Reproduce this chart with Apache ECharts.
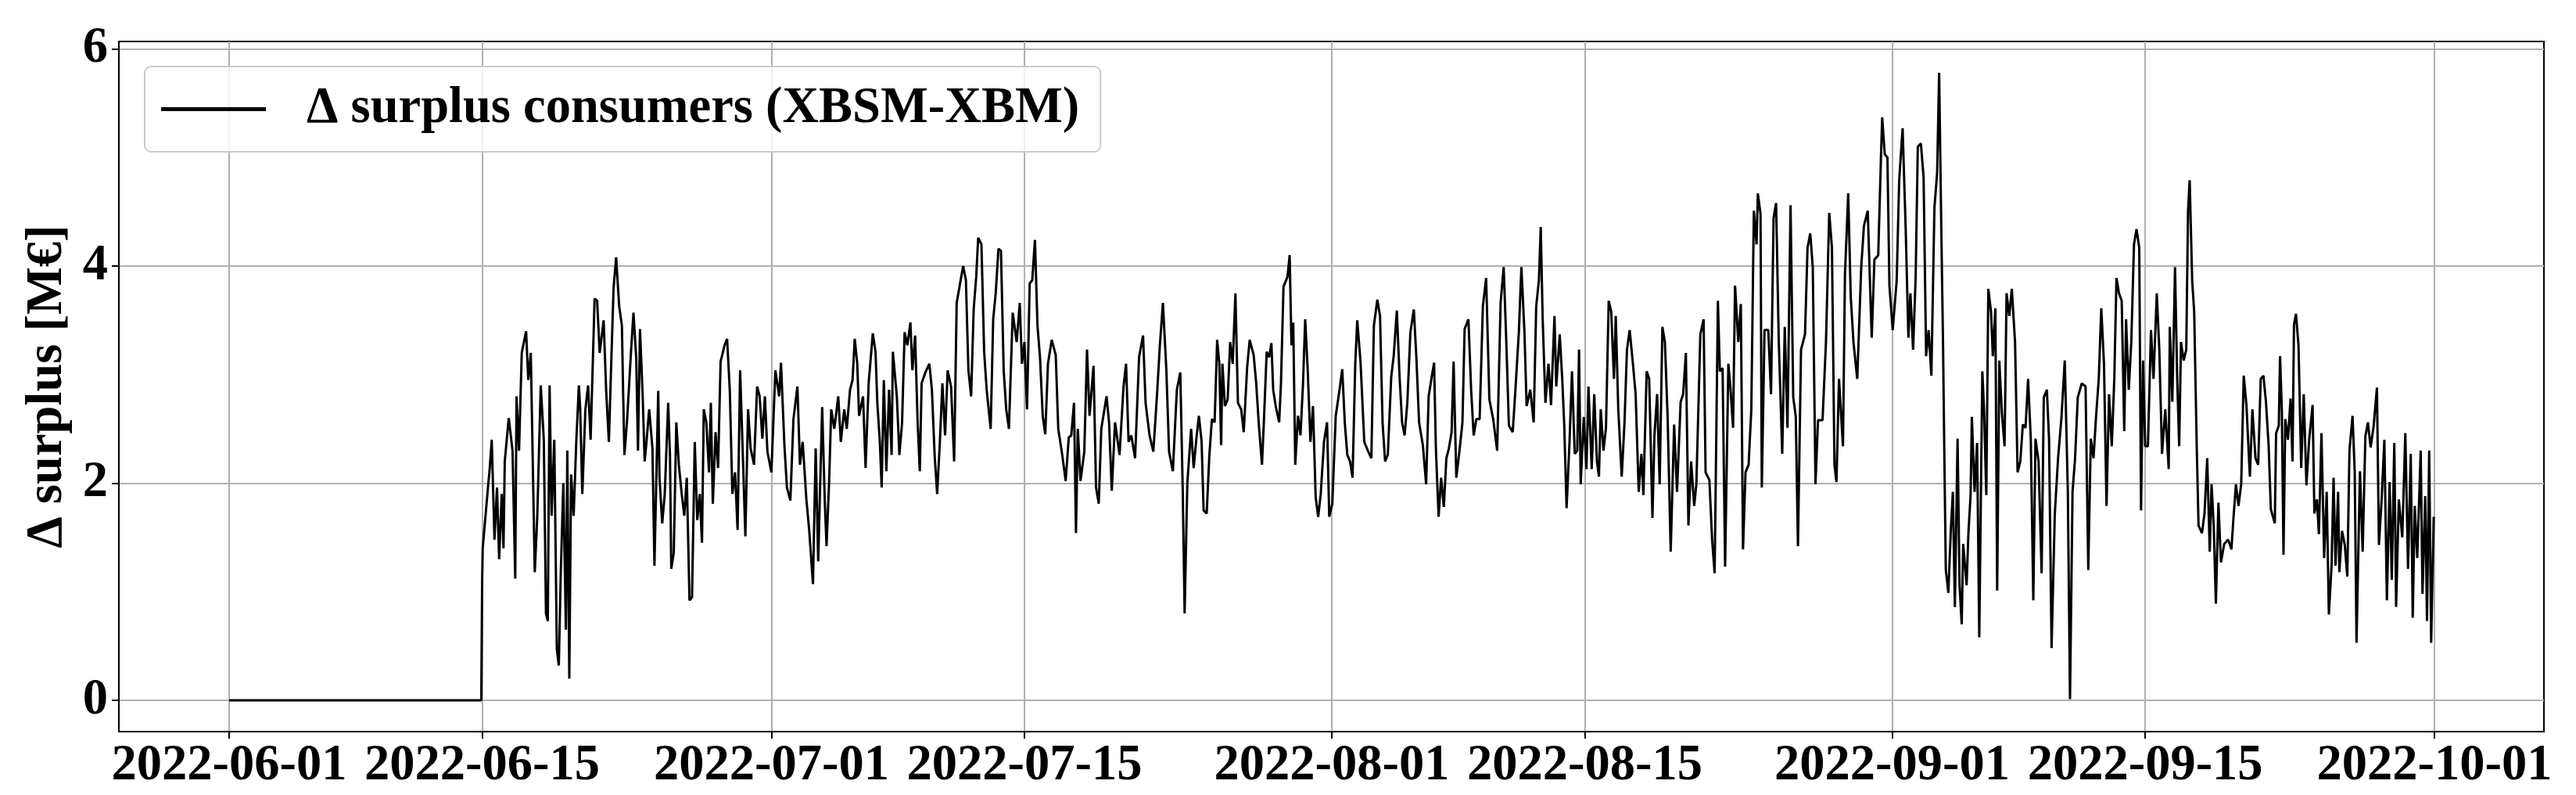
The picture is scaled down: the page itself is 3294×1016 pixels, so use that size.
<!DOCTYPE html>
<html>
<head>
<meta charset="utf-8">
<script src="https://cdn.jsdelivr.net/npm/echarts@6/dist/echarts.min.js"></script>
<style>
    html, body { margin: 0; padding: 0; background: #fff; }
    #chart { width: 3294px; height: 1016px; }
</style>
</head>
<body>
<div id="chart"></div>
<script>
var DAY = 86400000;
var START = Date.UTC(2022, 5, 1);                 // 2022-06-01 00:00

var seriesName = 'Δ surplus consumers (XBSM-XBM)';
var yAxisName = 'Δ surplus [M€]';
var xTickDates = ['2022-06-01', '2022-06-15', '2022-07-01', '2022-07-15', '2022-08-01',
                  '2022-08-15', '2022-09-01', '2022-09-15', '2022-10-01'];
var yTicks = [0, 2, 4, 6];

// readings: [days since 2022-06-01, surplus M€]
var juneReadings = [[0,0],[13.95,0],[14.0,1.12],[14.03,1.4],[14.32,1.96],[14.42,2.14],[14.53,2.4],[14.68,1.48],[14.82,1.96],[14.94,1.3],[15.08,1.9],[15.18,1.4],[15.25,2.2],[15.47,2.6],[15.68,2.3],[15.83,1.12],[15.9,2.8],[16.04,2.3],[16.19,3.2],[16.43,3.4],[16.55,2.95],[16.69,3.2],[16.91,1.18],[17.05,1.7],[17.24,2.9],[17.41,2.4],[17.53,0.8],[17.63,0.73],[17.73,2.9],[17.84,1.7],[17.99,2.4],[18.13,0.47],[18.24,0.32],[18.35,1.18],[18.49,2.0],[18.63,0.65],[18.71,2.3],[18.82,0.2],[18.92,2.08],[19.06,1.7],[19.21,2.4],[19.35,2.9],[19.42,2.7],[19.54,1.9],[19.71,2.68],[19.86,2.9],[20.0,2.4],[20.22,3.7],[20.36,3.68],[20.5,3.2],[20.72,3.5],[20.86,2.85],[21.01,2.38],[21.15,3.16],[21.27,3.8],[21.41,4.08],[21.58,3.63],[21.73,3.45],[21.8,2.82],[21.87,2.26],[22.01,2.56],[22.23,3.2],[22.37,3.57],[22.52,3.16],[22.62,2.3],[22.73,3.42],[22.88,2.8],[22.99,2.2],[23.09,2.38],[23.24,2.68],[23.42,2.32],[23.53,1.24],[23.74,2.85],[23.81,2.05],[23.96,1.63],[24.1,1.9],[24.29,2.74],[24.39,2.26],[24.46,1.21],[24.6,1.36],[24.74,2.56],[24.88,2.17],[25.04,1.9],[25.18,1.7],[25.32,2.05],[25.47,0.92],[25.61,0.95],[25.76,2.38],[25.9,1.66],[26.04,1.9],[26.16,1.45],[26.26,2.68],[26.4,2.56],[26.55,2.1],[26.65,2.74],[26.76,1.81],[26.91,2.47],[27.05,2.14],[27.19,3.12],[27.41,3.27],[27.55,3.33],[27.7,2.85],[27.84,1.9],[27.99,2.1],[28.13,1.57],[28.27,3.04],[28.42,2.26],[28.56,1.51],[28.71,2.68],[28.85,2.32],[29.04,2.17],[29.21,2.89],[29.35,2.8],[29.5,2.41],[29.64,2.8],[29.78,2.29],[30.0,2.1]];

var julyReadings = [[30.22,3.04],[30.43,2.8],[30.53,3.11],[30.72,2.35],[30.86,1.96],[31.05,1.84],[31.22,2.59],[31.44,2.89],[31.58,2.17],[31.73,2.38],[31.94,1.84],[32.09,1.57],[32.3,1.07],[32.45,2.32],[32.59,1.28],[32.81,2.7],[32.95,1.85],[33.05,1.42],[33.19,2.0],[33.31,2.68],[33.48,2.5],[33.7,2.8],[33.84,2.38],[34.03,2.68],[34.17,2.5],[34.35,2.86],[34.49,2.95],[34.61,3.33],[34.75,3.1],[34.85,2.62],[35.07,2.8],[35.21,2.14],[35.38,2.92],[35.61,3.38],[35.76,3.21],[35.86,2.74],[36.0,2.38],[36.1,1.96],[36.22,2.95],[36.36,2.11],[36.51,2.86],[36.65,2.26],[36.72,3.21],[36.94,2.8],[37.08,2.26],[37.23,2.56],[37.37,3.39],[37.52,3.27],[37.69,3.48],[37.8,3.04],[37.95,3.36],[38.09,2.56],[38.21,2.11],[38.31,2.92],[38.52,3.02],[38.74,3.1],[38.88,2.86],[39.03,2.26],[39.17,1.9],[39.32,2.38],[39.46,2.92],[39.61,2.44],[39.75,3.04],[39.94,2.89],[40.11,2.2],[40.25,3.66],[40.47,3.87],[40.61,4.0],[40.76,3.87],[40.9,3.04],[41.05,2.8],[41.19,3.6],[41.33,3.9],[41.44,4.26],[41.62,4.2],[41.77,3.21],[41.91,2.86],[42.13,2.5],[42.27,3.51],[42.41,3.75],[42.56,4.16],[42.7,4.14],[42.85,3.04],[42.99,2.68],[43.14,2.5],[43.35,3.57],[43.57,3.3],[43.74,3.66],[43.86,3.1],[44.0,3.3],[44.14,2.68],[44.29,3.84],[44.43,3.87],[44.58,4.24],[44.72,3.45],[44.86,3.16],[45.01,2.62],[45.15,2.45],[45.3,3.1],[45.51,3.32],[45.73,3.18],[45.87,2.5],[46.09,2.26],[46.28,2.02],[46.45,2.42],[46.59,2.44],[46.74,2.74],[46.85,1.54],[46.95,2.5],[47.1,2.02],[47.31,2.29],[47.46,3.23],[47.6,2.62],[47.82,3.08],[47.96,1.96],[48.11,1.81],[48.25,2.5],[48.54,2.8],[48.68,2.56],[48.83,1.93],[49.01,2.56],[49.26,2.26],[49.48,2.89],[49.62,3.1],[49.76,2.38],[49.91,2.44],[50.12,2.23],[50.34,3.16],[50.56,3.36],[50.7,2.74],[50.92,2.44],[51.13,2.29],[51.35,2.86],[51.49,3.27],[51.66,3.66],[51.85,3.04],[52.0,2.29],[52.21,2.11],[52.43,2.86],[52.62,3.02],[52.76,1.9],[52.86,0.8],[53.01,2.0],[53.22,2.5],[53.36,2.14],[53.51,2.41],[53.65,2.62],[53.8,2.38],[53.91,1.75],[54.08,1.72],[54.23,2.26],[54.37,2.59],[54.52,2.56],[54.66,3.32],[54.78,3.1],[54.88,2.35],[54.95,3.1],[55.09,2.71],[55.24,2.77],[55.38,3.3],[55.52,3.1],[55.67,3.75],[55.81,2.74],[55.99,2.68],[56.13,2.47],[56.32,3.07],[56.46,3.32],[56.68,3.18],[56.82,2.92],[56.97,2.53],[57.14,2.17],[57.25,2.59],[57.4,3.21],[57.54,3.16],[57.66,3.29],[57.76,2.86],[57.9,2.71],[58.09,2.56],[58.19,2.92],[58.33,3.81],[58.55,3.9],[58.67,4.1],[58.77,3.27],[58.87,3.48],[58.98,2.17],[59.13,2.62],[59.27,2.44],[59.41,2.92],[59.53,3.51],[59.67,3.04],[59.82,2.38],[59.96,2.71],[60.11,1.87],[60.25,1.69],[60.39,1.9],[60.57,2.38],[60.74,2.56],[60.86,1.69]];

var augustReadings = [[61.03,1.81],[61.22,2.62],[61.43,2.86],[61.58,3.05],[61.72,2.56],[61.86,2.26],[62.01,2.2],[62.15,2.05],[62.3,3.1],[62.41,3.5],[62.59,3.12],[62.8,2.38],[63.02,2.29],[63.19,2.23],[63.33,3.45],[63.52,3.69],[63.67,3.54],[63.81,2.56],[63.95,2.2],[64.1,2.26],[64.29,2.98],[64.43,3.18],[64.6,3.59],[64.75,2.98],[64.89,2.56],[65.03,2.44],[65.18,2.74],[65.35,3.39],[65.54,3.6],[65.68,3.16],[65.83,2.56],[66.04,2.35],[66.22,1.99],[66.36,2.8],[66.55,3.0],[66.66,3.11],[66.76,2.32],[66.91,1.69],[67.05,2.05],[67.2,1.78],[67.34,2.23],[67.48,2.32],[67.63,2.47],[67.74,3.12],[67.89,2.05],[68.06,2.29],[68.23,2.56],[68.35,3.42],[68.56,3.51],[68.71,2.86],[68.85,2.44],[69.0,2.59],[69.18,2.59],[69.36,3.63],[69.54,3.89],[69.72,2.77],[69.93,2.59],[70.15,2.3],[70.34,3.66],[70.51,3.99],[70.65,3.33],[70.8,2.53],[71.01,2.47],[71.16,2.86],[71.35,3.39],[71.49,3.99],[71.66,3.39],[71.78,2.71],[71.98,2.86],[72.17,2.56],[72.31,3.63],[72.46,3.87],[72.56,4.36],[72.67,3.5],[72.82,2.74],[72.99,3.1],[73.13,2.72],[73.32,3.54],[73.42,2.89],[73.61,3.37],[73.75,2.96],[73.86,2.54],[73.99,1.77],[74.15,2.37],[74.29,3.03],[74.44,2.27],[74.58,2.3],[74.68,3.23],[74.77,1.99],[74.94,2.61],[75.09,2.13],[75.2,2.89],[75.38,2.13],[75.52,2.82],[75.67,2.2],[75.78,2.06],[75.88,2.68],[76.03,2.3],[76.17,2.51],[76.32,3.68],[76.46,3.58],[76.61,2.96],[76.71,3.54],[76.85,2.68],[77.04,2.06],[77.19,2.54],[77.33,3.23],[77.48,3.41],[77.66,3.1],[77.81,2.82],[77.98,1.92],[78.13,2.27],[78.24,1.89],[78.42,3.03],[78.56,2.96],[78.74,1.68],[78.85,2.44],[79.0,2.82],[79.14,1.99],[79.29,3.44],[79.43,3.3],[79.58,2.61],[79.75,1.37],[79.94,2.54],[80.1,1.92],[80.3,2.75],[80.44,2.82],[80.59,3.2],[80.73,1.61],[80.88,2.2],[81.05,1.79],[81.17,1.99],[81.39,3.37],[81.57,3.51],[81.68,2.1],[81.89,2.03],[82.04,1.48],[82.18,1.17],[82.25,2.13],[82.36,3.68],[82.47,3.03],[82.62,3.06],[82.76,1.23],[82.94,3.1],[83.05,2.89],[83.2,2.51],[83.31,3.82],[83.49,3.3],[83.63,3.65],[83.75,1.39],[83.89,2.1],[84.06,2.17],[84.21,2.68],[84.35,4.51],[84.5,4.2],[84.57,4.67],[84.72,4.48],[84.79,1.96],[84.94,3.41],[85.15,3.41],[85.3,2.82],[85.44,4.44],[85.58,4.58],[85.73,3.3],[85.92,2.27],[86.06,3.44],[86.21,2.51],[86.38,4.56],[86.53,2.79],[86.67,2.61],[86.79,1.42],[86.96,3.23],[87.18,3.37],[87.32,4.17],[87.47,4.3],[87.61,3.99],[87.76,1.99],[87.9,2.58],[88.15,2.58],[88.34,3.3],[88.52,4.49],[88.67,4.17],[88.81,2.17],[88.92,2.01],[89.06,2.96],[89.28,2.34],[89.39,3.92],[89.57,4.67],[89.71,3.72],[89.86,3.3],[90.07,2.96],[90.29,3.99],[90.44,4.37],[90.65,4.51],[90.87,3.34],[91.02,4.06],[91.23,4.1],[91.38,4.99],[91.45,5.37],[91.59,5.03],[91.74,5.0],[91.85,3.82]];

var septemberReadings = [[92.03,3.41],[92.25,3.86],[92.39,4.79],[92.58,5.27],[92.75,4.34],[92.9,3.34],[93.01,3.75],[93.16,3.23],[93.3,3.89],[93.42,5.1],[93.59,5.13],[93.74,4.82],[93.88,3.17],[94.02,3.41],[94.17,2.99],[94.34,4.54],[94.49,4.86],[94.6,5.78],[94.72,4.34],[94.82,3.23],[94.89,2.23],[94.97,1.2],[95.11,0.99],[95.25,1.58],[95.36,1.92],[95.47,0.86],[95.62,2.41],[95.73,1.06],[95.85,0.7],[95.93,1.44],[96.12,1.06],[96.22,1.54],[96.34,1.89],[96.41,2.61],[96.56,1.92],[96.7,2.37],[96.82,0.58],[96.99,3.03],[97.09,2.65],[97.21,1.89],[97.32,3.79],[97.47,3.58],[97.57,3.17],[97.71,3.61],[97.81,1.01],[97.93,3.13],[98.07,2.65],[98.22,2.34],[98.33,3.75],[98.48,3.54],[98.62,3.79],[98.8,3.3],[98.94,2.1],[99.09,2.2],[99.23,2.54],[99.38,2.51],[99.52,2.96],[99.67,2.41],[99.81,0.92],[99.93,2.41],[100.1,2.2],[100.27,1.17],[100.39,2.79],[100.56,2.86],[100.68,2.41],[100.82,0.48],[101.0,1.72],[101.18,2.23],[101.37,2.61],[101.55,3.13],[101.72,1.92],[101.84,0.01],[101.98,1.92],[102.12,2.23],[102.27,2.79],[102.49,2.92],[102.7,2.89],[102.85,1.2],[102.99,2.41],[103.14,2.23],[103.28,2.61],[103.43,2.96],[103.57,3.61],[103.72,3.1],[103.86,1.79],[104.0,2.82],[104.15,2.34],[104.29,2.96],[104.41,3.89],[104.55,3.75],[104.7,3.68],[104.84,2.48],[104.94,3.51],[105.09,2.86],[105.23,3.3],[105.38,4.2],[105.52,4.34],[105.67,4.17],[105.77,1.75],[105.88,3.13],[106.0,2.34],[106.15,2.34],[106.32,3.41],[106.46,2.96],[106.64,3.75],[106.78,3.23],[106.93,2.27],[107.11,2.68],[107.3,2.13],[107.36,3.44],[107.5,2.75],[107.65,3.99],[107.77,2.96],[107.88,2.34],[107.98,3.3],[108.13,3.13],[108.27,3.23],[108.37,4.51],[108.46,4.79],[108.6,3.86],[108.71,3.58],[108.85,2.34],[108.95,1.61],[109.14,1.54],[109.28,1.72],[109.43,2.23],[109.57,1.37],[109.67,1.99],[109.79,1.61],[109.91,0.89],[110.05,1.82],[110.19,1.27],[110.37,1.44],[110.59,1.48],[110.77,1.39],[110.87,1.65],[111.02,1.99],[111.16,1.79],[111.31,1.99],[111.45,2.99],[111.6,2.72],[111.79,2.06],[111.93,2.68],[112.1,2.23],[112.25,2.17],[112.39,2.96],[112.54,2.99],[112.68,2.75],[112.83,2.34],[112.95,1.76],[113.17,1.63],[113.24,2.46],[113.39,2.53],[113.46,3.17],[113.56,2.66],[113.65,1.34],[113.75,2.59],[113.9,2.4],[114.04,2.78],[114.15,2.2],[114.23,3.46],[114.34,3.56],[114.48,3.27],[114.63,2.14],[114.77,2.82],[114.92,1.98],[115.07,2.4],[115.26,2.72],[115.36,1.72],[115.5,1.85],[115.61,1.53],[115.75,2.46],[115.9,1.31],[116.04,1.92],[116.16,0.79],[116.31,1.24],[116.42,2.05],[116.53,1.24],[116.67,1.92],[116.74,1.18],[116.89,1.56],[117.04,1.43],[117.18,1.14],[117.3,2.3],[117.47,2.62],[117.59,2.11],[117.69,0.53],[117.88,2.11],[118.03,1.37],[118.18,2.43],[118.32,2.56],[118.47,2.33],[118.64,2.53],[118.82,2.88],[118.93,1.43],[119.08,1.85],[119.23,2.4],[119.37,0.92],[119.52,2.01],[119.64,1.11],[119.78,2.37],[119.88,0.86],[120.03,1.85],[120.22,1.5],[120.39,2.46],[120.54,1.21],[120.69,2.27],[120.8,0.76],[120.91,1.79],[121.05,1.31],[121.24,2.3],[121.34,0.98],[121.49,1.88],[121.59,0.73],[121.71,2.3],[121.82,0.53],[121.96,1.69]];

var serifFont = 'Liberation Serif, Times New Roman, serif';
var fontSize = 64.5;

function pad2(n) {
    return n < 10 ? '0' + n : '' + n;
}

function dateLabel(v) {
    var d = new Date(Math.round(v / DAY) * DAY);
    return d.getUTCFullYear() + '-' + pad2(d.getUTCMonth() + 1) + '-' + pad2(d.getUTCDate());
}

var points = [].concat(juneReadings, julyReadings, augustReadings, septemberReadings).map(function (r) {
    return [START + r[0] * DAY, r[1]];
});

// matplotlib style 5% margins around the data
var xFirst = points[0][0];
var xLast = points[points.length - 1][0];
var yMinData = 1000000;
var yMaxData = -1000000;
points.forEach(function (p) {
    yMinData = yMinData < p[1] ? yMinData : p[1];
    yMaxData = yMaxData > p[1] ? yMaxData : p[1];
});
var xPad = (xLast - xFirst) * 0.05;
var yPad = (yMaxData - yMinData) * 0.05;

var xTickValues = xTickDates.map(function (s) { return Date.parse(s); });

var myChart = echarts.init(document.getElementById('chart'));

var option = {
    backgroundColor: '#fff',
    animation: false,
    grid: {
        show: true,
        left: 152,
        right: 41,
        top: 53,
        bottom: 81,
        borderColor: '#000',
        borderWidth: 2,
        containLabel: false
    },
    legend: {
        data: [seriesName],
        left: 185,
        top: 85,
        padding: [22, 27, 22, 21],
        backgroundColor: 'rgba(255,255,255,0.8)',
        borderColor: '#cccccc',
        borderWidth: 2,
        borderRadius: 8,
        icon: 'rect',
        itemWidth: 134,
        itemHeight: 5,
        itemStyle: { color: '#000' },
        textStyle: {
            fontFamily: serifFont,
            fontWeight: 'bold',
            fontSize: fontSize,
            color: '#000',
            padding: [0, 0, 0, 47]
        }
    },
    xAxis: {
        type: 'value',
        min: xFirst - xPad,
        max: xLast + xPad,
        axisLine: { show: true, onZero: false, lineStyle: { color: '#000', width: 2 } },
        axisTick: {
            show: true,
            inside: false,
            length: 9,
            customValues: xTickValues,
            lineStyle: { color: '#000', width: 2 }
        },
        axisLabel: {
            customValues: xTickValues,
            formatter: dateLabel,
            margin: 12,
            fontFamily: serifFont,
            fontWeight: 'bold',
            fontSize: fontSize,
            color: '#000'
        },
        splitLine: { show: true, lineStyle: { color: '#b0b0b0', width: 2 } }
    },
    yAxis: {
        type: 'value',
        min: yMinData - yPad,
        max: yMaxData + yPad,
        name: yAxisName,
        nameLocation: 'middle',
        nameRotate: 90,
        nameGap: 58,
        nameTextStyle: {
            fontFamily: serifFont,
            fontWeight: 'bold',
            fontSize: fontSize,
            color: '#000'
        },
        axisLine: { show: true, lineStyle: { color: '#000', width: 2 } },
        axisTick: {
            show: true,
            inside: false,
            length: 9,
            customValues: yTicks,
            lineStyle: { color: '#000', width: 2 }
        },
        axisLabel: {
            customValues: yTicks,
            margin: 14,
            fontFamily: serifFont,
            fontWeight: 'bold',
            fontSize: fontSize,
            color: '#000'
        },
        splitLine: { show: true, lineStyle: { color: '#b0b0b0', width: 2 } }
    },
    series: [
        {
            name: seriesName,
            type: 'line',
            data: points,
            symbol: 'none',
            showSymbol: false,
            lineStyle: { color: '#000', width: 3 },
            itemStyle: { color: '#000' },
            z: 3
        }
    ]
};

myChart.setOption(option, true);
</script>
</body>
</html>
